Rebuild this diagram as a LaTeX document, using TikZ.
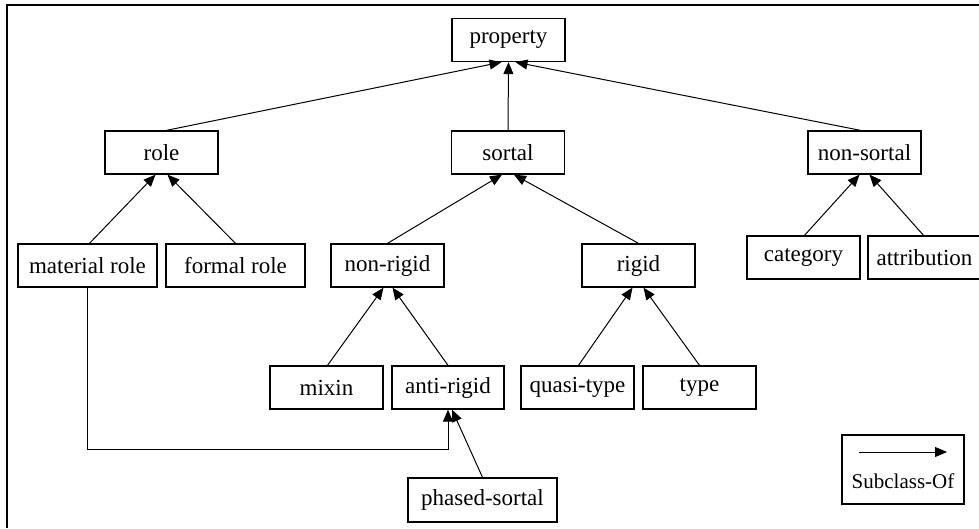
\documentclass[tikz,border=0pt]{standalone}
\usepackage{fontspec}
\setmainfont{Liberation Serif}
\usetikzlibrary{arrows.meta,calc}
\begin{document}
\begin{tikzpicture}[x=1pt,y=-1pt,
  box/.style={draw, line width=1.3pt, minimum width=113pt, minimum height=43pt,
              inner sep=0pt, font=\fontsize{23pt}{27pt}\selectfont},
  sub/.style={line width=1pt, -{Triangle[length=12pt,width=10pt]}}]
\useasboundingbox (0,0) rectangle (979,528);
% outer frame (top and left edges)
\draw[line width=1.3pt] (7,528) -- (7,5) -- (979,5);

% class hierarchy
\node[box] (prop) at (508.5,40) {property};
\node[box] (role) at (161.5,152.5) {role};
\node[box] (sortal) at (508,152.5) {sortal};
\node[box] (nonsortal) at (864.5,152.5) {non-sortal};
\node[box, minimum width=139pt] (matrole) at (87.5,265.5) {material role};
\node[box, minimum width=139pt] (formrole) at (235.5,265.5) {formal role};
\node[box] (nonrigid) at (387.5,265.5) {non-rigid};
\node[box] (rigid) at (638.5,265.5) {rigid};
\node[box] (category) at (803.5,257.5) {category};
\node[box] (attribution) at (924.5,257.5) {attribution};
\node[box] (mixin) at (326.5,387.5) {mixin};
\node[box, minimum width=112pt] (antirigid) at (448,387.5) {anti-rigid};
\node[box] (quasi) at (577.5,387.5) {quasi-type};
\node[box] (type) at (699.5,387.5) {type};
\node[box, minimum width=149pt, minimum height=44pt] (phased) at (482.5,500) {phased-sortal};

% subclass-of links
\draw[sub] ([xshift=5pt]role.north) -- ([xshift=-7pt]prop.south);
\draw[sub] (sortal.north) -- (prop.south);
\draw[sub] ([xshift=-4pt]nonsortal.north) -- ([xshift=7pt]prop.south);

\draw[sub] ([xshift=2pt]matrole.north) -- ([xshift=-6pt]role.south);
\draw[sub] (formrole.north) -- ([xshift=6pt]role.south);

\draw[sub] (nonrigid.north) -- ([xshift=-6pt]sortal.south);
\draw[sub] (rigid.north) -- ([xshift=6pt]sortal.south);

\draw[sub] ([xshift=1pt]category.north) -- ([xshift=-5pt]nonsortal.south);
\draw[sub] ([xshift=-1pt]attribution.north) -- ([xshift=5pt]nonsortal.south);

\draw[sub] ([xshift=1pt]mixin.north) -- ([xshift=-4pt]nonrigid.south);
\draw[sub] (antirigid.north) -- ([xshift=5pt]nonrigid.south);

\draw[sub] ([xshift=1pt]quasi.north) -- ([xshift=-6pt]rigid.south);
\draw[sub] (type.north) -- ([xshift=5pt]rigid.south);

\draw[sub] (matrole.south) |- ($(antirigid.south)+(0,40)$) -- (antirigid.south);
\draw[sub] (phased.north) -- ([xshift=4pt]antirigid.south);

% legend
\node[draw, line width=1.3pt, minimum width=122pt, minimum height=69pt, inner sep=0pt]
  (legend) at (903,469.5) {};
\coordinate (la) at (859,452);
\coordinate (lb) at (947,452);
\draw[sub] (la) -- (lb);
\node[font=\fontsize{21pt}{25pt}\selectfont, inner sep=0pt] (legtext) at (903,481) {Subclass-Of};
\end{tikzpicture}
\end{document}
